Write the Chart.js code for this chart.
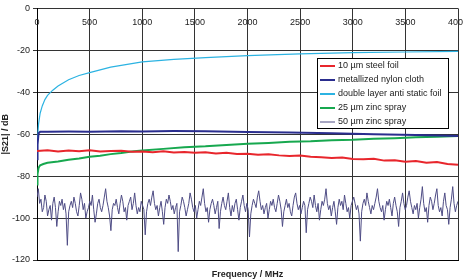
<!DOCTYPE html>
<html>
<head>
<meta charset="utf-8">
<script src="https://cdn.jsdelivr.net/npm/chart.js@4/dist/chart.umd.min.js"></script>
<style>
  html, body { margin: 0; padding: 0; background: #fff; }
  #wrap { width: 463px; height: 280px; position: relative; }
</style>
</head>
<body>
<div id="wrap"><canvas id="chart" width="463" height="280"></canvas></div>
<script>
const FONT = '"Liberation Sans", Arial, sans-serif';

const xTicks = [0, 500, 1000, 1500, 2000, 2500, 3000, 3500, 4000];
const yTicks = [0, -20, -40, -60, -80, -100, -120];

const seriesNames = ['10 µm steel foil', 'metallized nylon cloth', 'double layer anti static foil', '25 µm zinc spray', '50 µm zinc spray'];
const seriesColors = ['#e8262c', '#2a2d8e', '#2cb3e2', '#17a84f', '#4f4d85'];

// 10 µm steel foil, evenly spread 0..4000 MHz
const steelDb = [-68, -67.6, -68.2, -67.8, -68.1, -67.7, -68.3, -68, -67.9, -68.4, -68.2, -68.6, -68.1, -68.7, -68.5, -68.9, -68.6, -69.2, -68.9, -69.4,
  -69.3, -69.8, -69.6, -70.1, -70.4, -70.2, -70.8, -71, -71.3, -71.1, -71.8, -72, -71.7, -72.6, -72.4, -73.1, -72.8, -73.6, -73.3, -74.2, -74.6];

const nylonFreq = [0, 5, 15, 30, 100, 300, 500, 800, 1000, 1300, 1600, 2000, 2400, 2800, 3200, 3600, 4000];
const nylonDb = [-72, -65, -59.5, -58.8, -58.8, -58.7, -58.8, -58.6, -58.7, -58.5, -58.6, -58.9, -59.2, -59.6, -60, -60.4, -60.8];

const foilFreq = [0, 5, 15, 30, 50, 75, 100, 150, 200, 300, 400, 500, 700, 1000, 1300, 1600, 2000, 2500, 3000, 3500, 4000];
const foilDb = [-72, -62, -55, -50, -46.5, -43.5, -41.5, -39, -37, -34, -32, -30.6, -28, -25.5, -24.3, -23.5, -22.5, -21.7, -21.1, -20.8, -20.5];

const zinc25Freq = [0, 5, 15, 30, 60, 100, 200, 300, 400, 500, 600, 700, 800, 900, 1000, 1200, 1400, 1600, 1800, 2000, 2200, 2400, 2600, 2800, 3000, 3200, 3400, 3600, 3800, 4000];
const zinc25Db = [-84, -79, -76, -74.8, -74.2, -73.6, -73, -72.2, -71.6, -70.8, -70.3, -69.5, -69, -68.3, -67.8, -67, -66.2, -65.8, -65.1, -64.6,
  -64.2, -63.6, -63.4, -62.9, -62.7, -62.2, -61.9, -61.5, -61.2, -60.9];

// 50 µm zinc spray (noise floor), evenly spread 0..4000 MHz
const zinc50Db = [
  -90, -86, -93, -91, -97, -95, -89, -92, -99, -96, -94, -101, -93, -90, -95, -104, -97, -92, -94, -91,
  -96, -93, -98, -113, -97, -94, -92, -95, -90, -93, -97, -99, -94, -88, -91, -96, -93, -100, -97, -95,
  -92, -94, -89, -96, -102, -98, -93, -91, -95, -97, -94, -90, -86, -92, -95, -99, -106, -96, -93, -94,
  -91, -95, -98, -93, -89, -92, -97, -95, -101, -94, -92, -90, -96, -93, -88, -94, -98, -95, -97, -92,
  -94, -96, -108, -97, -93, -91, -94, -90, -87, -93, -96, -94, -99, -95, -92, -97, -103, -95, -91, -93,
  -89, -92, -96, -94, -98, -95, -93, -116, -97, -94, -90, -92, -95, -99, -96, -93, -88, -91, -95, -97,
  -94, -100, -96, -92, -94, -90, -86, -93, -97, -95, -102, -96, -93, -91, -94, -98, -95, -92, -105, -97,
  -93, -90, -94, -96, -92, -88, -95, -99, -94, -97, -93, -91, -96, -101, -95, -92, -89, -94, -97, -93,
  -96, -109, -98, -94, -91, -93, -95, -90, -87, -92, -96, -94, -98, -95, -93, -100, -96, -92, -94, -91,
  -95, -97, -93, -89, -92, -96, -104, -97, -94, -91, -95, -93, -97, -99, -94, -90, -88, -93, -96, -94,
  -98, -95, -92, -94, -107, -96, -93, -90, -92, -95, -89, -94, -97, -93, -101, -96, -92, -94, -91, -86,
  -93, -96, -94, -99, -95, -92, -97, -103, -95, -91, -94, -92, -96, -89, -93, -97, -95, -100, -94, -92,
  -90, -93, -96, -94, -98, -111, -97, -93, -91, -94, -88, -92, -95, -98, -94, -96, -93, -90, -86, -92,
  -95, -97, -94, -101, -96, -92, -94, -91, -95, -99, -93, -90, -94, -97, -104, -95, -92, -88, -93, -96,
  -94, -90, -87, -92, -95, -98, -94, -96, -93, -100, -95, -91, -85, -93, -97, -95, -102, -94, -90, -92,
  -96, -93, -89, -86, -94, -97, -95, -99, -92, -88, -94, -96, -103, -95, -91, -85, -93, -97, -94, -92];

function pairs(freq, db) {
  return db.map((v, i) => ({ x: freq[i], y: v }));
}
function spread(db) {
  return db.map((v, i) => ({ x: 4000 * i / (db.length - 1), y: v }));
}

// tick labels inside the plot top + legend box
const overlay = {
  id: 'overlay',
  afterDraw(c) {
    const ctx = c.ctx;
    const xs = c.scales.x;
    const top = c.chartArea.top;
    ctx.save();
    ctx.font = '9px ' + FONT;
    ctx.fillStyle = '#222';
    ctx.textAlign = 'center';
    ctx.textBaseline = 'middle';
    xTicks.forEach(t => ctx.fillText(String(t), xs.getPixelForValue(t), top + 14));

    // legend
    const bx = 317, by = 58, bw = 131, bh = 70;
    ctx.fillStyle = '#fff';
    ctx.fillRect(bx, by, bw, bh);
    ctx.strokeStyle = '#000';
    ctx.lineWidth = 1;
    ctx.strokeRect(bx + 0.5, by + 0.5, bw, bh);
    ctx.textAlign = 'left';
    seriesNames.forEach((name, i) => {
      const y = by + 8 + i * 14;
      ctx.strokeStyle = seriesColors[i];
      ctx.lineWidth = i === 4 ? 1 : 2;
      ctx.beginPath();
      ctx.moveTo(bx + 3, y);
      ctx.lineTo(bx + 18, y);
      ctx.stroke();
      ctx.fillStyle = '#222';
      ctx.fillText(name, bx + 21, y);
    });
    ctx.restore();
  }
};

const widths = [2, 2, 1.2, 2, 1];
const datasets = [
  spread(steelDb),
  pairs(nylonFreq, nylonDb),
  pairs(foilFreq, foilDb),
  pairs(zinc25Freq, zinc25Db),
  spread(zinc50Db)
].map((data, i) => ({
  label: seriesNames[i],
  data,
  borderColor: seriesColors[i],
  borderWidth: widths[i],
  pointRadius: 0,
  tension: 0,
  order: i === 4 ? 10 : i
}));

new Chart(document.getElementById('chart'), {
  type: 'line',
  data: { datasets },
  options: {
    responsive: false,
    animation: false,
    layout: { padding: { top: 7, right: 5, left: 0, bottom: 0 } },
    plugins: { legend: { display: false }, tooltip: { enabled: false } },
    scales: {
      x: {
        type: 'linear',
        min: 0,
        max: 4000,
        afterBuildTicks: s => { s.ticks = xTicks.map(v => ({ value: v })); },
        afterFit: s => { s.height = 20; },
        ticks: { display: false },
        grid: { color: '#333', lineWidth: 1, drawTicks: false },
        border: { color: '#000', width: 1 },
        title: { display: true, text: 'Frequency / MHz', color: '#222', padding: 0, font: { family: FONT, size: 9, weight: 'bold' } }
      },
      y: {
        min: -120,
        max: 0,
        afterBuildTicks: s => { s.ticks = yTicks.map(v => ({ value: v })); },
        afterFit: s => { s.width = 37; },
        ticks: { color: '#222', padding: 3, font: { family: FONT, size: 9 } },
        grid: { color: '#333', lineWidth: 1, tickLength: 4 },
        border: { color: '#000', width: 1 },
        title: { display: true, text: '|S21| / dB', color: '#222', padding: 0, font: { family: FONT, size: 9, weight: 'bold' } }
      }
    }
  },
  plugins: [overlay]
});
</script>
</body>
</html>
